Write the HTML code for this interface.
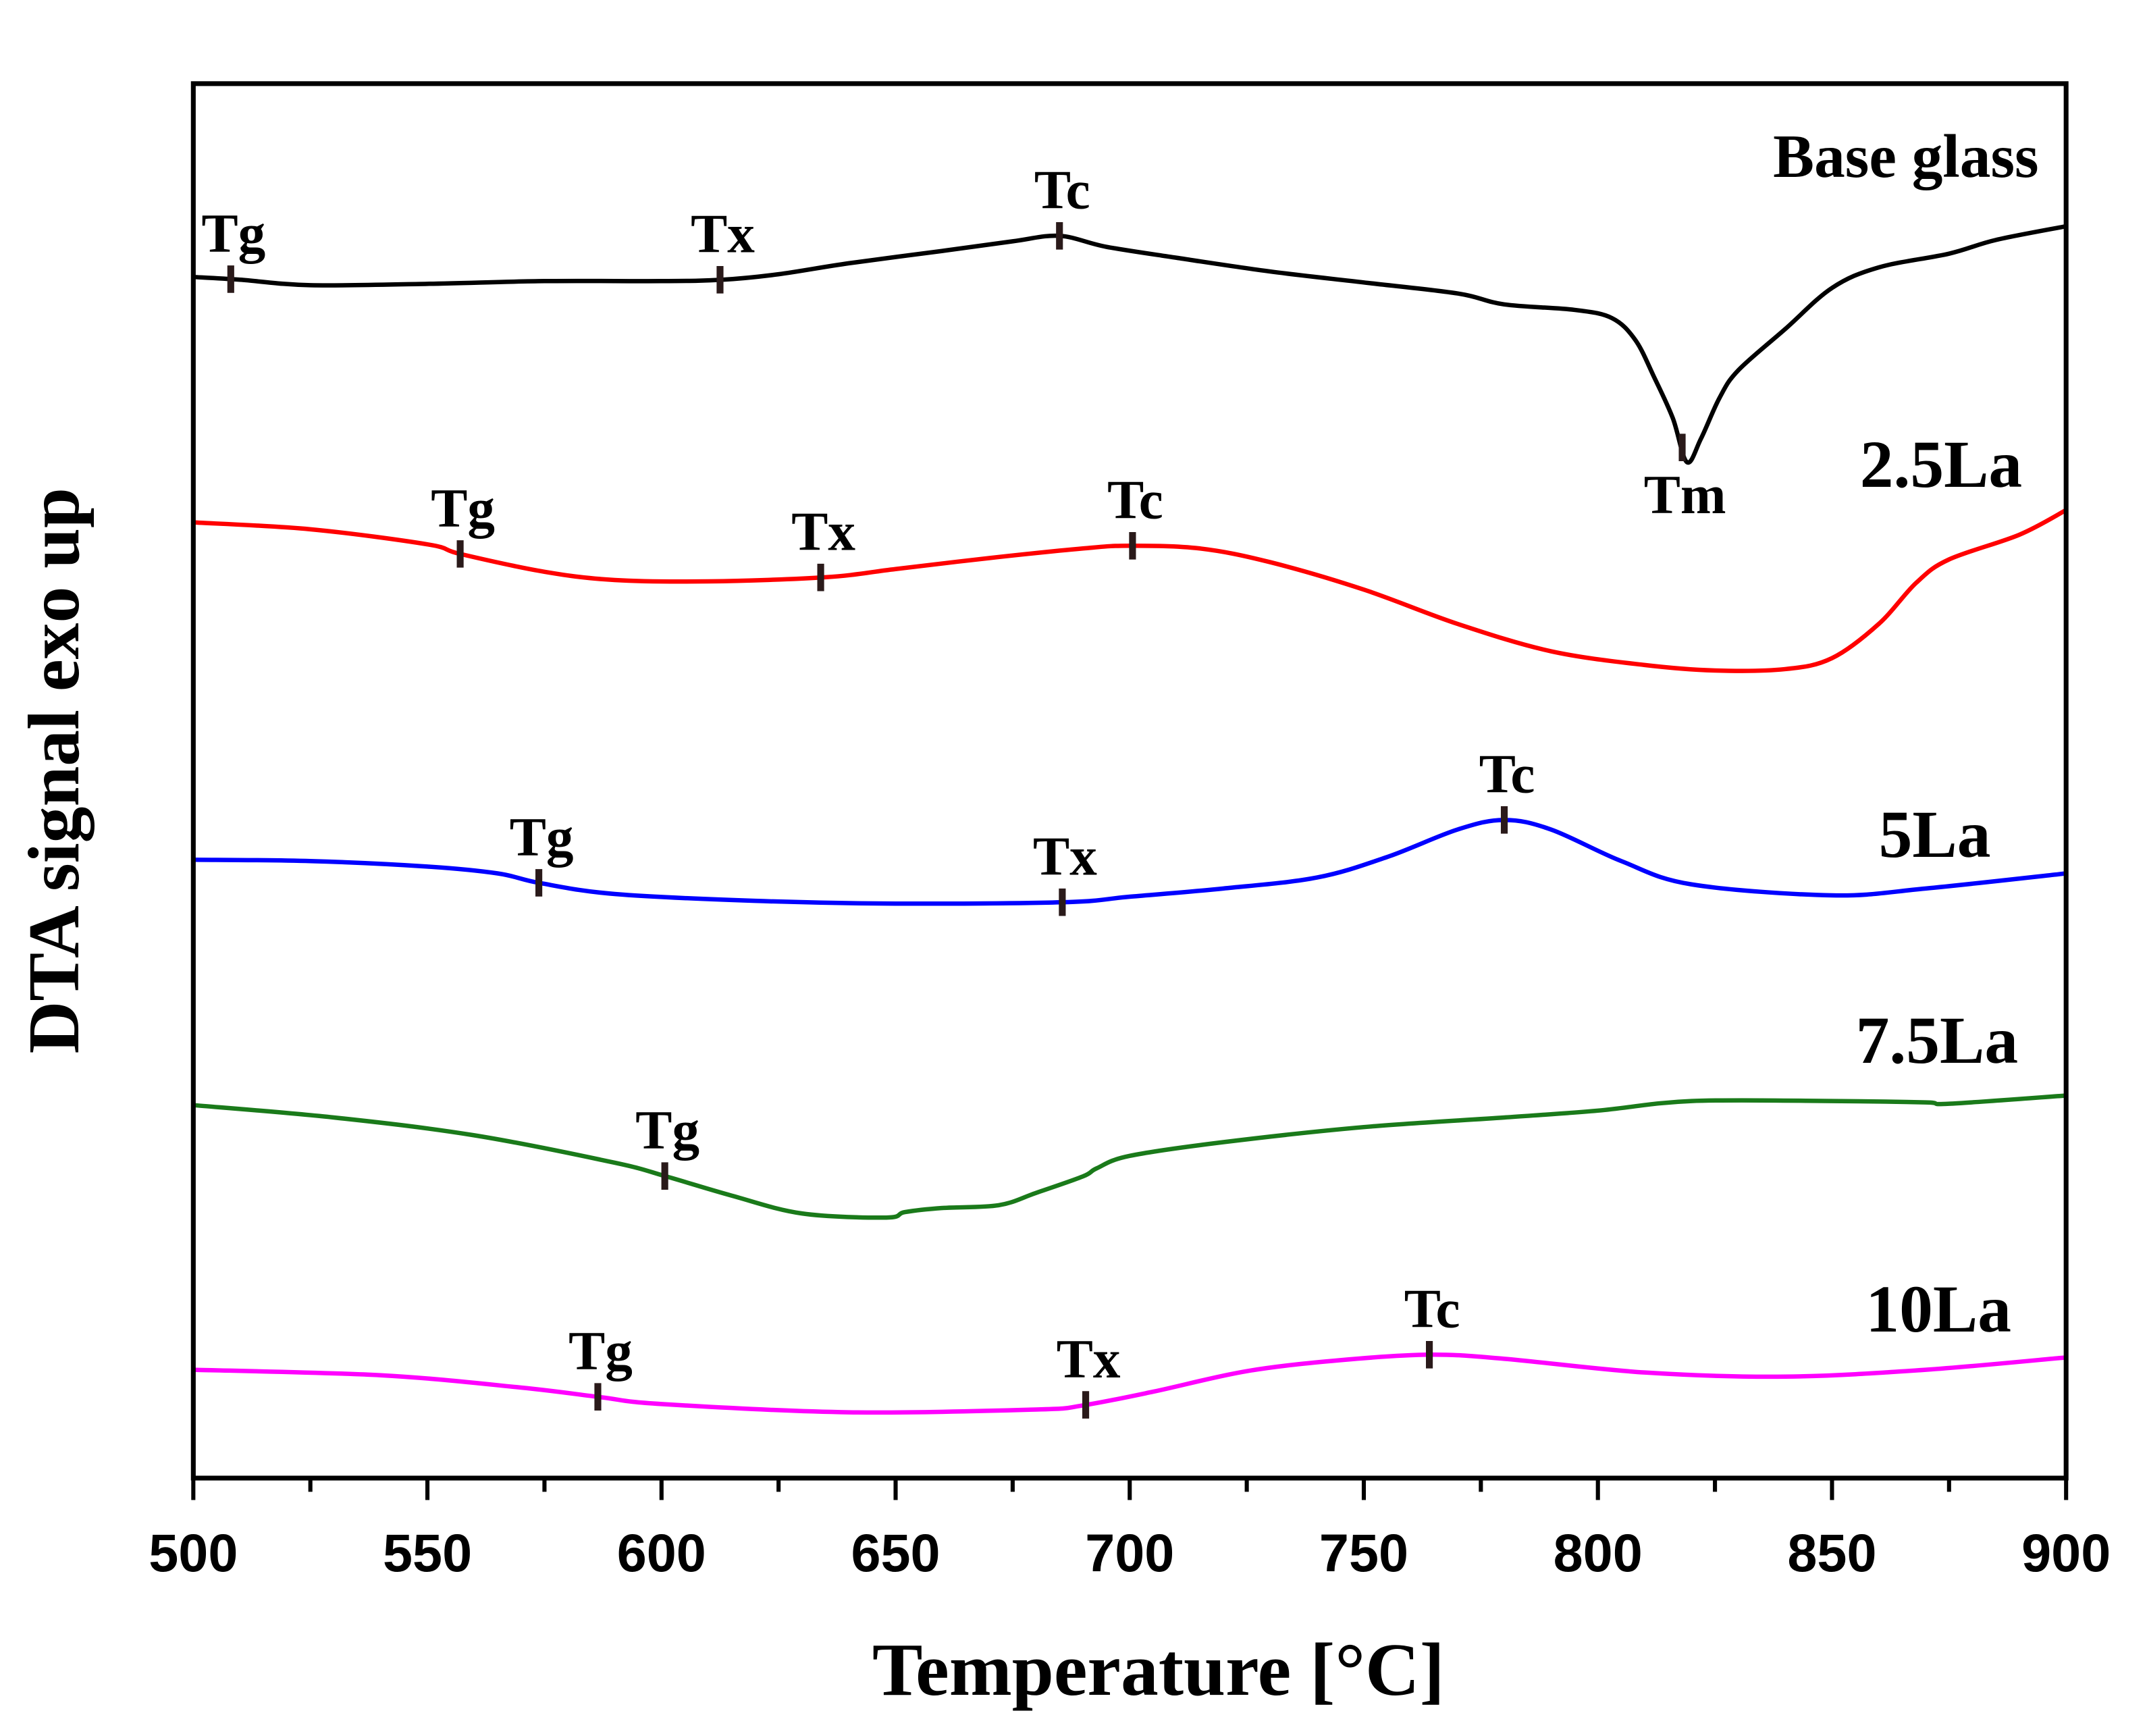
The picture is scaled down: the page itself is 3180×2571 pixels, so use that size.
<!DOCTYPE html>
<html><head><meta charset="utf-8"><style>html,body{margin:0;padding:0;background:#fff}svg{display:block}</style></head>
<body>
<svg id="chart" width="3180" height="2571" viewBox="0 0 1566 1266.1" xmlns="http://www.w3.org/2000/svg">
<g id="plot"></g>
</svg>
<script>
const xTicks=[500,550,600,650,700,750,800,850,900];
const seriesNames=["Base glass","2.5La","5La","7.5La","10La"];
const seriesColors=["#000000","#ff0000","#0000ff","#1a7a1a","#ff00ff"];
const baseT=[500,510,525,550,575,600,613,625,640,660,675,685,695,710,730,750,770,780,795,803,808,812,816,819,822,826,830,840,850,860,875,885,900];
const baseV=[87.6,87.4,87.0,87.1,87.3,87.3,87.4,87.8,88.6,89.5,90.2,90.6,89.8,89.0,88.0,87.2,86.4,85.6,85.2,84.6,83.0,80.3,77.3,74.1,75.8,78.8,80.8,83.8,86.8,88.3,89.3,90.3,91.3];
const la25T=[500,525,550,557,575,590,610,635,650,670,690,700,715,730,750,770,790,810,825,840,850,860,868,875,890,900];
const la25V=[69.7,69.2,68.1,67.4,66.1,65.5,65.4,65.7,66.3,67.1,67.8,68.0,67.8,66.8,64.8,62.3,60.3,59.3,58.9,59.0,59.8,62.3,65.3,67.0,68.8,70.6];
const la5T=[500,525,550,565,574,590,620,650,686,700,720,740,755,770,780,790,805,820,850,870,900];
const la5V=[45.1,45.0,44.6,44.1,43.4,42.6,42.1,41.9,42.0,42.4,43.0,43.8,45.3,47.3,48.0,47.3,45.0,43.3,42.5,43.0,44.1];
const la75T=[500,530,560,590,601,615,630,648,652,660,672,680,690,693,700,720,750,780,800,820,850,870,875,900];
const la75V=[27.2,26.3,25.0,23.0,22.0,20.6,19.3,19.0,19.4,19.7,19.9,20.8,22.0,22.6,23.5,24.5,25.6,26.3,26.8,27.5,27.5,27.4,27.3,27.9];
const la10T=[500,540,570,587,600,640,680,690,705,725,745,764,780,810,840,870,900];
const la10V=[7.9,7.5,6.6,5.9,5.4,4.8,5.0,5.3,6.3,7.8,8.6,9.0,8.7,7.7,7.4,7.9,8.8];
const seriesT=[baseT,la25T,la5T,la75T,la10T];
const seriesV=[baseV,la25V,la5V,la75V,la10V];
const markerNames=[["Tg","Tx","Tc","Tm"],["Tg","Tx","Tc"],["Tg","Tx","Tc"],["Tg"],["Tg","Tx","Tc"]];
const markerTemps=[[508,612.5,685,818],[557,634,700.6],[573.8,685.6,780],[600.7],[586.4,690.6,764]];

const L=141,R=1507,T=61,B=1078;
function xs(t){return L+(t-500)/400*(R-L);}
function ys(v){return B-v*10;}
function interp(ts,vs,t){for(let i=0;i<ts.length-1;i++){if(t>=ts[i]&&t<=ts[i+1]){const f=(t-ts[i])/(ts[i+1]-ts[i]);return vs[i]+f*(vs[i+1]-vs[i]);}}return vs[vs.length-1];}
const NS="http://www.w3.org/2000/svg";
const g=document.getElementById('plot');
function mk(tag,attrs,parent){const e=document.createElementNS(NS,tag);for(const k in attrs)e.setAttribute(k,attrs[k]);(parent||g).appendChild(e);return e;}
function smooth(pts){let d="M"+pts[0][0]+","+pts[0][1];for(let i=0;i<pts.length-1;i++){const p0=pts[i-1]||pts[i],p1=pts[i],p2=pts[i+1],p3=pts[i+2]||p2;const c1x=p1[0]+(p2[0]-p0[0])/6,c1y=p1[1]+(p2[1]-p0[1])/6,c2x=p2[0]-(p3[0]-p1[0])/6,c2y=p2[1]-(p3[1]-p1[1])/6;d+=" C"+c1x+","+c1y+" "+c2x+","+c2y+" "+p2[0]+","+p2[1];}return d;}

for(let s=0;s<seriesNames.length;s++){
  const pts=seriesT[s].map((t,i)=>[xs(t),ys(seriesV[s][i])]);
  const p=mk('path',{d:smooth(pts),fill:'none',stroke:seriesColors[s],'stroke-width':3.2,'stroke-linejoin':'round'});
  
  
  for(let m=0;m<markerNames[s].length;m++){
    const t=markerTemps[s][m];const x=xs(t);const y=ys(interp(seriesT[s],seriesV[s],t));
    const tk=mk('line',{x1:x,x2:x,y1:y-10,y2:y+10,stroke:'#2a1a1a','stroke-width':5});
    
    
    const below=markerNames[s][m]==="Tm";
    const tx=mk('text',{x:x+2,y:below?y+48:y-20,'text-anchor':'middle','font-family':'Liberation Serif, serif','font-weight':'bold','font-size':40,fill:'#000'});
    tx.textContent=markerNames[s][m];
    
    
  }
}
const labX=[1487,1475,1452,1472,1467];const labY=[129,355,625,775,971];
for(let s=0;s<seriesNames.length;s++){
  const t=mk('text',{x:labX[s],y:labY[s],'text-anchor':'end','font-family':'Liberation Serif, serif','font-weight':'bold','font-size':s===0?45:49,fill:'#000'});
  t.textContent=seriesNames[s];
  
  
}
const fr=mk('rect',{x:L,y:T,width:R-L,height:B-T,fill:'none',stroke:'#000','stroke-width':3.5});


for(let i=0;i<xTicks.length;i++){
  const x=xs(xTicks[i]);
  const tk=mk('line',{x1:x,x2:x,y1:B,y2:B+16,stroke:'#000','stroke-width':3});
  
  
  if(i<xTicks.length-1){const xm=xs(xTicks[i]+25);
    const mt=mk('line',{x1:xm,x2:xm,y1:B,y2:B+10,stroke:'#000','stroke-width':3});
    
    }
  const lb=mk('text',{x:x,y:1146,'text-anchor':'middle','font-family':'Liberation Sans, Arial, sans-serif','font-weight':'bold','font-size':39,fill:'#000'});
  lb.textContent=xTicks[i];
  
  
}
const xt=mk('text',{x:845,y:1236,'text-anchor':'middle','font-family':'Liberation Serif, serif','font-weight':'bold','font-size':55,fill:'#000'});
xt.textContent="Temperature [°C]";


const yt=mk('text',{x:0,y:0,'text-anchor':'middle','font-family':'Liberation Serif, serif','font-weight':'bold','font-size':53,fill:'#000',transform:'translate(57,562) rotate(-90)'});
yt.textContent="DTA signal exo up";


</script>
</body></html>
